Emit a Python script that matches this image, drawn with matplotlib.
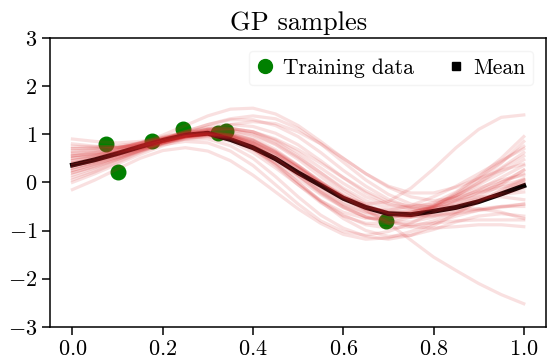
import numpy as np
import matplotlib
matplotlib.use("Agg")
import matplotlib.pyplot as plt
from matplotlib.lines import Line2D

plt.rcParams['font.family'] = 'serif'
plt.rcParams['font.serif'] = ['cmr10']
plt.rcParams['mathtext.fontset'] = 'cm'
plt.rcParams['axes.formatter.use_mathtext'] = True

# training points
train_x = [0.075, 0.10, 0.177, 0.246, 0.322, 0.34, 0.695]
train_y = [0.80, 0.22, 0.855, 1.10, 1.03, 1.07, -0.80]

grid_x = [0.00, 0.05, 0.10, 0.15, 0.20, 0.25, 0.30, 0.35, 0.40, 0.45, 0.50,
          0.55, 0.60, 0.65, 0.70, 0.75, 0.80, 0.85, 0.90, 0.95, 1.00]

mean_y = [0.36, 0.47, 0.60, 0.74, 0.87, 0.98, 1.02, 0.89, 0.72, 0.49, 0.20,
          -0.06, -0.33, -0.52, -0.65, -0.67, -0.60, -0.52, -0.40, -0.24, -0.07]

# posterior samples
samples = [
    [0.55, 0.62, 0.70, 0.82, 0.98, 1.18, 1.38, 1.52, 1.54, 1.42, 1.18, 0.85, 0.50, 0.18, -0.08, -0.22, -0.22, -0.10, 0.08, 0.25, 0.38],
    [0.20, 0.34, 0.50, 0.66, 0.82, 0.95, 1.00, 0.95, 0.82, 0.60, 0.30, -0.02, -0.30, -0.45, -0.40, -0.12, 0.28, 0.72, 1.10, 1.35, 1.40],
    [0.62, 0.66, 0.72, 0.82, 0.93, 1.02, 1.06, 0.98, 0.80, 0.55, 0.22, -0.10, -0.35, -0.58, -0.85, -1.20, -1.55, -1.83, -2.10, -2.33, -2.52],
    [0.90, 0.85, 0.82, 0.85, 0.92, 1.02, 1.10, 1.12, 1.05, 0.85, 0.55, 0.20, -0.15, -0.45, -0.65, -0.72, -0.65, -0.48, -0.25, 0.00, 0.25],
    [-0.15, 0.05, 0.28, 0.50, 0.66, 0.72, 0.65, 0.45, 0.15, -0.20, -0.55, -0.85, -1.08, -1.18, -1.15, -1.02, -0.85, -0.70, -0.58, -0.50, -0.45],
    [0.45, 0.55, 0.68, 0.82, 0.95, 1.05, 1.12, 1.12, 1.05, 0.90, 0.68, 0.40, 0.10, -0.18, -0.40, -0.50, -0.45, -0.28, -0.02, 0.28, 0.55],
    [0.10, 0.25, 0.45, 0.65, 0.82, 0.95, 1.00, 0.92, 0.72, 0.40, 0.00, -0.40, -0.75, -1.00, -1.12, -1.10, -0.98, -0.82, -0.70, -0.65, -0.70],
    [0.70, 0.72, 0.76, 0.82, 0.88, 0.95, 0.98, 0.92, 0.75, 0.48, 0.15, -0.18, -0.45, -0.62, -0.68, -0.62, -0.48, -0.28, -0.05, 0.20, 0.47],
    [0.30, 0.40, 0.55, 0.70, 0.85, 0.98, 1.05, 1.02, 0.88, 0.62, 0.28, -0.08, -0.38, -0.55, -0.58, -0.48, -0.30, -0.08, 0.18, 0.45, 0.70],
    [0.55, 0.58, 0.64, 0.74, 0.86, 0.98, 1.06, 1.05, 0.92, 0.68, 0.35, 0.00, -0.30, -0.52, -0.65, -0.70, -0.68, -0.62, -0.55, -0.50, -0.50],
    [0.00, 0.18, 0.38, 0.58, 0.76, 0.90, 0.96, 0.90, 0.70, 0.38, 0.00, -0.38, -0.68, -0.88, -0.95, -0.92, -0.80, -0.62, -0.42, -0.22, 0.00],
    [0.80, 0.75, 0.72, 0.76, 0.84, 0.96, 1.08, 1.20, 1.26, 1.22, 1.05, 0.80, 0.50, 0.18, -0.10, -0.30, -0.38, -0.32, -0.18, 0.00, 0.18],
    [0.25, 0.38, 0.52, 0.68, 0.82, 0.92, 0.95, 0.85, 0.62, 0.30, -0.05, -0.38, -0.62, -0.75, -0.75, -0.65, -0.50, -0.38, -0.30, -0.30, -0.36],
    [0.40, 0.50, 0.62, 0.76, 0.90, 1.02, 1.10, 1.10, 1.00, 0.80, 0.52, 0.20, -0.12, -0.38, -0.55, -0.58, -0.48, -0.25, 0.05, 0.40, 0.85],
    [0.60, 0.62, 0.66, 0.74, 0.85, 0.96, 1.02, 0.96, 0.78, 0.50, 0.15, -0.20, -0.50, -0.72, -0.85, -0.88, -0.85, -0.80, -0.78, -0.78, -0.78],
    [0.15, 0.30, 0.48, 0.66, 0.82, 0.95, 1.02, 0.98, 0.82, 0.55, 0.20, -0.15, -0.45, -0.65, -0.72, -0.68, -0.55, -0.38, -0.22, -0.10, -0.02],
    [0.50, 0.56, 0.64, 0.76, 0.90, 1.04, 1.15, 1.20, 1.16, 1.02, 0.78, 0.45, 0.10, -0.22, -0.45, -0.55, -0.55, -0.45, -0.35, -0.25, -0.20],
    [0.35, 0.45, 0.58, 0.72, 0.85, 0.95, 0.98, 0.88, 0.68, 0.40, 0.08, -0.25, -0.52, -0.72, -0.82, -0.82, -0.72, -0.55, -0.32, -0.05, 0.26],
    [0.75, 0.74, 0.74, 0.78, 0.85, 0.94, 1.00, 0.98, 0.86, 0.64, 0.34, 0.02, -0.28, -0.50, -0.62, -0.62, -0.52, -0.36, -0.15, 0.10, 0.35],
    [0.05, 0.22, 0.42, 0.62, 0.80, 0.94, 1.02, 1.00, 0.88, 0.65, 0.35, 0.02, -0.30, -0.58, -0.80, -0.92, -0.95, -0.92, -0.88, -0.88, -0.92],
    [0.45, 0.52, 0.62, 0.75, 0.88, 0.98, 1.02, 0.95, 0.76, 0.48, 0.14, -0.22, -0.52, -0.72, -0.78, -0.70, -0.52, -0.28, 0.00, 0.30, 0.62],
    [0.20, 0.32, 0.48, 0.64, 0.80, 0.92, 0.98, 0.94, 0.80, 0.58, 0.30, 0.00, -0.28, -0.50, -0.62, -0.65, -0.60, -0.55, -0.55, -0.62, -0.75],
    [0.65, 0.68, 0.72, 0.80, 0.90, 1.00, 1.08, 1.08, 0.98, 0.78, 0.48, 0.12, -0.22, -0.48, -0.62, -0.62, -0.50, -0.32, -0.12, 0.05, 0.15],
    [0.30, 0.42, 0.56, 0.70, 0.84, 0.96, 1.02, 0.98, 0.85, 0.62, 0.32, -0.02, -0.32, -0.55, -0.68, -0.72, -0.70, -0.65, -0.58, -0.52, -0.45],
    [0.40, 0.48, 0.58, 0.70, 0.82, 0.90, 0.90, 0.76, 0.50, 0.12, -0.30, -0.68, -0.95, -1.12, -1.18, -1.10, -0.90, -0.65, -0.40, -0.15, 0.08],
    [0.55, 0.60, 0.67, 0.78, 0.90, 1.02, 1.10, 1.12, 1.05, 0.88, 0.62, 0.30, -0.02, -0.30, -0.48, -0.52, -0.42, -0.20, 0.12, 0.50, 0.95],
    [0.35, 0.45, 0.58, 0.74, 0.90, 1.05, 1.20, 1.32, 1.38, 1.32, 1.12, 0.80, 0.42, 0.05, -0.25, -0.45, -0.52, -0.48, -0.38, -0.25, -0.12],
    [0.70, 0.70, 0.72, 0.80, 0.92, 1.06, 1.20, 1.30, 1.30, 1.18, 0.95, 0.62, 0.25, -0.08, -0.35, -0.52, -0.58, -0.52, -0.38, -0.18, 0.05],
    [0.25, 0.38, 0.52, 0.66, 0.78, 0.85, 0.82, 0.65, 0.35, -0.05, -0.45, -0.80, -1.02, -1.10, -1.02, -0.85, -0.62, -0.40, -0.20, -0.05, 0.05],
    [0.50, 0.55, 0.62, 0.72, 0.84, 0.95, 1.00, 0.92, 0.70, 0.35, -0.05, -0.42, -0.70, -0.85, -0.85, -0.72, -0.50, -0.22, 0.10, 0.42, 0.75],
]

fig, ax = plt.subplots(figsize=(5.48, 3.64), dpi=100)
fig.subplots_adjust(left=0.091, right=0.997, bottom=0.102, top=0.896)

ax.scatter(train_x, train_y, s=110, color='green', zorder=1)
ax.plot(grid_x, mean_y, color='black', lw=3.5, zorder=2)
for s in samples:
    ax.plot(grid_x, s, color='tab:red', alpha=0.14, lw=2.3, zorder=3)

ax.set_ylim(-3, 3)
ax.set_yticks([-3, -2, -1, 0, 1, 2, 3])
ax.set_xticks([0.0, 0.2, 0.4, 0.6, 0.8, 1.0])
ax.tick_params(labelsize=16, length=5.5, width=1.1)
for sp in ax.spines.values():
    sp.set_linewidth(1.1)
ax.set_title('GP samples', fontsize=19)

handles = [Line2D([], [], marker='o', color='green', ls='none', markersize=10),
           Line2D([], [], marker='s', color='black', ls='none', markersize=6)]
leg = ax.legend(handles, ['Training data', 'Mean'], loc='upper right', ncol=2,
                fontsize=15.5, handlelength=0.8, handletextpad=0.4,
                columnspacing=1.6, borderpad=0.35, borderaxespad=0.6)
leg.get_frame().set_edgecolor('0.95')

plt.savefig('out.png', dpi=100)
